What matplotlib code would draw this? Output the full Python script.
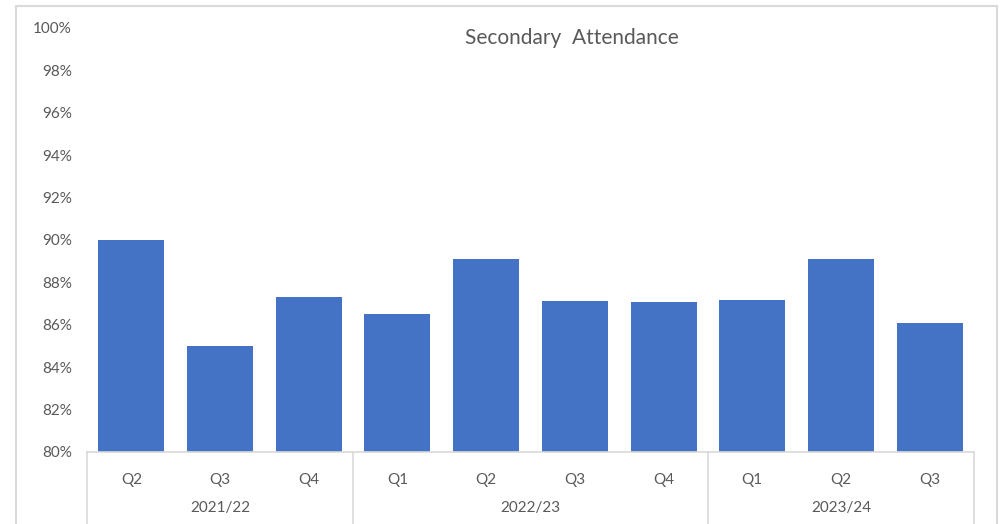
import matplotlib.pyplot as plt
from matplotlib.patches import Rectangle
from matplotlib.ticker import FuncFormatter

plt.rcParams['font.family'] = ['Lato', 'DejaVu Sans']

years = ['2021/22', '2022/23', '2023/24']
quarters = [['Q2', 'Q3', 'Q4'], ['Q1', 'Q2', 'Q3', 'Q4'], ['Q1', 'Q2', 'Q3']]
attendance = [90.0, 85.0, 87.3, 86.5, 89.1, 87.1, 87.08, 87.15, 89.1, 86.1]

grey = '#595959'
line_grey = '#d9d9d9'
bar_col = '#4472C4'

fig = plt.figure(figsize=(10.04, 5.24), dpi=100)
ax = fig.add_axes([87 / 1004, 1 - 452 / 524, (974 - 87) / 1004, (452 - 28) / 524])

# chart border
fig.patches.append(Rectangle((16 / 1004, -0.05), (997 - 16) / 1004, 1.05 - 6 / 524,
                             transform=fig.transFigure, fill=False,
                             edgecolor=line_grey, linewidth=1.5))

labels = [q for grp in quarters for q in grp]
x = list(range(len(labels)))
ax.bar(x, [v - 80 for v in attendance], bottom=80, width=0.745, color=bar_col)

ax.set_xlim(-0.5, len(labels) - 0.5)
ax.set_ylim(80, 100)
ax.set_yticks(range(80, 101, 2))
ax.yaxis.set_major_formatter(FuncFormatter(lambda v, p: f'{v:.0f}%'))
ax.tick_params(axis='y', length=0, pad=11, labelsize=11, labelcolor=grey)
ax.set_xticks([])

for s in ['top', 'right', 'left']:
    ax.spines[s].set_visible(False)
ax.spines['bottom'].set_color(line_grey)
ax.spines['bottom'].set_linewidth(1.2)

# quarter labels, year groups and separators
trans = ax.get_xaxis_transform()
for xi, q in zip(x, labels):
    ax.text(xi, -0.066, q, transform=trans, ha='center', va='center',
            fontsize=11, color=grey)
start = 0
for yr, grp in zip(years, quarters):
    ax.plot([start - 0.5, start - 0.5], [0, -0.2], color=line_grey, lw=1.2,
            transform=trans, clip_on=False)
    mid = start + (len(grp) - 1) / 2
    ax.text(mid, -0.132, yr, transform=trans, ha='center', va='center',
            fontsize=11, color=grey)
    start += len(grp)
ax.plot([start - 0.5, start - 0.5], [0, -0.2], color=line_grey, lw=1.2,
        transform=trans, clip_on=False)

fig.text(572 / 1004, 1 - 38 / 524, 'Secondary  Attendance', ha='center', va='center',
         fontsize=15, color=grey)

fig.savefig('out.png', dpi=100)
